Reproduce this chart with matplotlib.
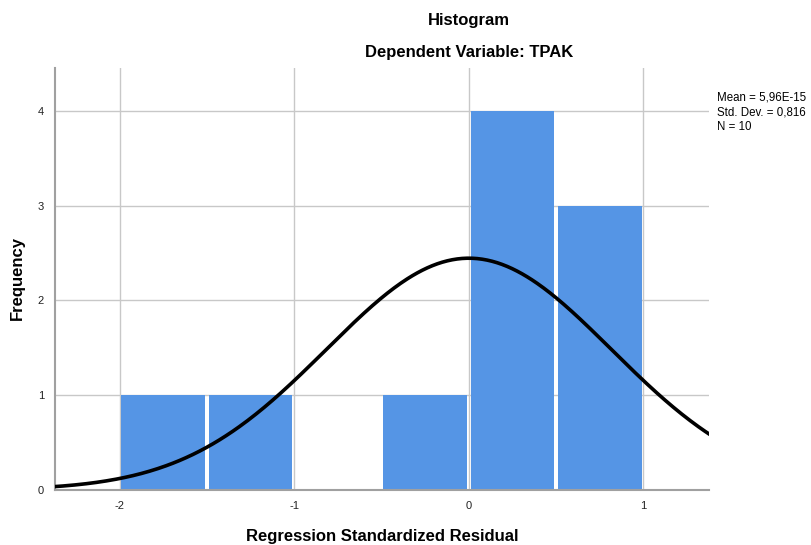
import numpy as np
import matplotlib.pyplot as plt

plt.rcParams['font.family'] = ['Liberation Sans', 'DejaVu Sans']
plt.rcParams['axes.unicode_minus'] = False

# histogram bins (Regression Standardized Residual) and frequencies
bin_edges = [-2.0, -1.5, -1.0, -0.5, 0.0, 0.5, 1.0]
counts = [1, 1, 0, 1, 4, 3]

# summary stats shown in the legend
mean = 5.96e-15
std = 0.816
n = 10

fig = plt.figure(figsize=(8.11, 5.45), dpi=100)
ax = fig.add_axes([0.0678, 0.1009, 0.8064, 0.7743])

widths = np.diff(bin_edges)
gap = 0.02
ax.bar(np.array(bin_edges[:-1]) + gap / 2, counts, width=widths - gap, align='edge',
       color='#5595e5', linewidth=0, zorder=2)

# normal curve scaled to counts
xs = np.linspace(-2.4, 1.4, 400)
bw = widths[0]
ys = n * bw / (std * np.sqrt(2 * np.pi)) * np.exp(-0.5 * ((xs - mean) / std) ** 2)
ax.plot(xs, ys, color='black', lw=2.6, zorder=3)

ax.set_xlim(-2.37, 1.375)
ax.set_ylim(0, 4.45)
ax.set_xticks([-2, -1, 0, 1])
ax.set_yticks([0, 1, 2, 3, 4])
ax.grid(True, color='#c8c8c8', lw=1, zorder=0)
ax.set_axisbelow(True)
for s in ['top', 'right']:
    ax.spines[s].set_visible(False)
for s in ['left', 'bottom']:
    ax.spines[s].set_color('#a0a0a0')
    ax.spines[s].set_linewidth(1.5)
ax.tick_params(length=0, labelsize=8, pad=8, colors='#222222')

fig.text(382 / 811, 1 - 536 / 545, 'Regression Standardized Residual', ha='center', va='center',
         fontsize=12, fontweight='bold')
fig.text(17 / 811, 1 - 278 / 545, 'Frequency', ha='center', va='center', rotation=90,
         fontsize=12, fontweight='bold')

fig.text(469 / 811, 1 - 20 / 545, 'Histogram', ha='center', va='center', fontsize=12, fontweight='bold')
fig.text(469 / 811, 1 - 53 / 545, 'Dependent Variable: TPAK', ha='center', va='center', fontsize=12, fontweight='bold')

fig.text(717 / 811, 1 - 92 / 545, 'Mean = 5,96E-15\nStd. Dev. = 0,816\nN = 10',
         ha='left', va='top', fontsize=8.3, linespacing=1.3)

fig.savefig('out.png', dpi=100)
